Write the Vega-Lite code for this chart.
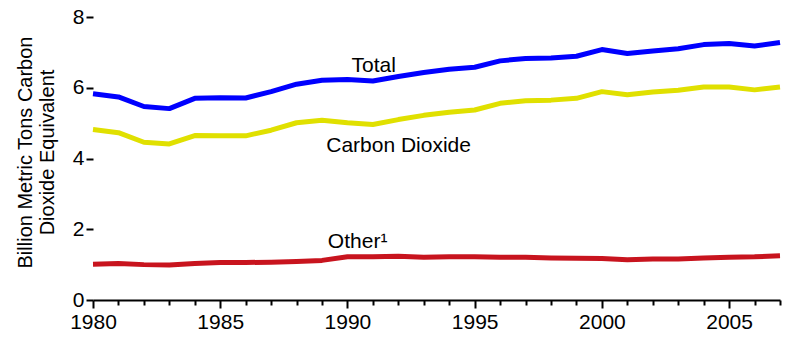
{
  "$schema": "https://vega.github.io/schema/vega-lite/v6.json",
  "width": 687,
  "height": 283,
  "autosize": {"type": "none"},
  "padding": {"left": 93, "top": 17, "right": 5, "bottom": 38},
  "background": "white",
  "config": {
    "font": "Liberation Sans",
    "view": {"stroke": null},
    "axis": {"labelFont": "Liberation Sans", "titleFont": "Liberation Sans", "labelColor": "black", "titleColor": "black", "tickColor": "black", "domainColor": "black", "grid": false}
  },
  "data": {"values": [
    {"year": 1980, "series": "Total", "value": 5.83},
    {"year": 1981, "series": "Total", "value": 5.74},
    {"year": 1982, "series": "Total", "value": 5.47},
    {"year": 1983, "series": "Total", "value": 5.41},
    {"year": 1984, "series": "Total", "value": 5.70},
    {"year": 1985, "series": "Total", "value": 5.72},
    {"year": 1986, "series": "Total", "value": 5.71},
    {"year": 1987, "series": "Total", "value": 5.89},
    {"year": 1988, "series": "Total", "value": 6.10},
    {"year": 1989, "series": "Total", "value": 6.21},
    {"year": 1990, "series": "Total", "value": 6.23},
    {"year": 1991, "series": "Total", "value": 6.19},
    {"year": 1992, "series": "Total", "value": 6.32},
    {"year": 1993, "series": "Total", "value": 6.43},
    {"year": 1994, "series": "Total", "value": 6.52},
    {"year": 1995, "series": "Total", "value": 6.58},
    {"year": 1996, "series": "Total", "value": 6.76},
    {"year": 1997, "series": "Total", "value": 6.83},
    {"year": 1998, "series": "Total", "value": 6.84},
    {"year": 1999, "series": "Total", "value": 6.89},
    {"year": 2000, "series": "Total", "value": 7.08},
    {"year": 2001, "series": "Total", "value": 6.97},
    {"year": 2002, "series": "Total", "value": 7.04},
    {"year": 2003, "series": "Total", "value": 7.10},
    {"year": 2004, "series": "Total", "value": 7.22},
    {"year": 2005, "series": "Total", "value": 7.25},
    {"year": 2006, "series": "Total", "value": 7.18},
    {"year": 2007, "series": "Total", "value": 7.28},
    {"year": 1980, "series": "Carbon Dioxide", "value": 4.82},
    {"year": 1981, "series": "Carbon Dioxide", "value": 4.73},
    {"year": 1982, "series": "Carbon Dioxide", "value": 4.46},
    {"year": 1983, "series": "Carbon Dioxide", "value": 4.41},
    {"year": 1984, "series": "Carbon Dioxide", "value": 4.65},
    {"year": 1985, "series": "Carbon Dioxide", "value": 4.64},
    {"year": 1986, "series": "Carbon Dioxide", "value": 4.64},
    {"year": 1987, "series": "Carbon Dioxide", "value": 4.80},
    {"year": 1988, "series": "Carbon Dioxide", "value": 5.01},
    {"year": 1989, "series": "Carbon Dioxide", "value": 5.08},
    {"year": 1990, "series": "Carbon Dioxide", "value": 5.01},
    {"year": 1991, "series": "Carbon Dioxide", "value": 4.96},
    {"year": 1992, "series": "Carbon Dioxide", "value": 5.10},
    {"year": 1993, "series": "Carbon Dioxide", "value": 5.22},
    {"year": 1994, "series": "Carbon Dioxide", "value": 5.31},
    {"year": 1995, "series": "Carbon Dioxide", "value": 5.37},
    {"year": 1996, "series": "Carbon Dioxide", "value": 5.56},
    {"year": 1997, "series": "Carbon Dioxide", "value": 5.63},
    {"year": 1998, "series": "Carbon Dioxide", "value": 5.65},
    {"year": 1999, "series": "Carbon Dioxide", "value": 5.70},
    {"year": 2000, "series": "Carbon Dioxide", "value": 5.89},
    {"year": 2001, "series": "Carbon Dioxide", "value": 5.80},
    {"year": 2002, "series": "Carbon Dioxide", "value": 5.88},
    {"year": 2003, "series": "Carbon Dioxide", "value": 5.93},
    {"year": 2004, "series": "Carbon Dioxide", "value": 6.02},
    {"year": 2005, "series": "Carbon Dioxide", "value": 6.02},
    {"year": 2006, "series": "Carbon Dioxide", "value": 5.94},
    {"year": 2007, "series": "Carbon Dioxide", "value": 6.02},
    {"year": 1980, "series": "Other", "value": 1.01},
    {"year": 1981, "series": "Other", "value": 1.03},
    {"year": 1982, "series": "Other", "value": 1.00},
    {"year": 1983, "series": "Other", "value": 0.99},
    {"year": 1984, "series": "Other", "value": 1.03},
    {"year": 1985, "series": "Other", "value": 1.06},
    {"year": 1986, "series": "Other", "value": 1.06},
    {"year": 1987, "series": "Other", "value": 1.07},
    {"year": 1988, "series": "Other", "value": 1.09},
    {"year": 1989, "series": "Other", "value": 1.12},
    {"year": 1990, "series": "Other", "value": 1.22},
    {"year": 1991, "series": "Other", "value": 1.22},
    {"year": 1992, "series": "Other", "value": 1.24},
    {"year": 1993, "series": "Other", "value": 1.21},
    {"year": 1994, "series": "Other", "value": 1.22},
    {"year": 1995, "series": "Other", "value": 1.22},
    {"year": 1996, "series": "Other", "value": 1.21},
    {"year": 1997, "series": "Other", "value": 1.21},
    {"year": 1998, "series": "Other", "value": 1.19},
    {"year": 1999, "series": "Other", "value": 1.18},
    {"year": 2000, "series": "Other", "value": 1.17},
    {"year": 2001, "series": "Other", "value": 1.14},
    {"year": 2002, "series": "Other", "value": 1.16},
    {"year": 2003, "series": "Other", "value": 1.16},
    {"year": 2004, "series": "Other", "value": 1.19},
    {"year": 2005, "series": "Other", "value": 1.21},
    {"year": 2006, "series": "Other", "value": 1.22},
    {"year": 2007, "series": "Other", "value": 1.25}
  ]},
  "encoding": {
    "x": {
      "field": "year", "type": "quantitative",
      "scale": {"domain": [1980, 2007], "nice": false, "zero": false},
      "axis": {
        "title": null,
        "values": [1980,1981,1982,1983,1984,1985,1986,1987,1988,1989,1990,1991,1992,1993,1994,1995,1996,1997,1998,1999,2000,2001,2002,2003,2004,2005,2006,2007],
        "format": "d",
        "labelExpr": "datum.value % 5 === 0 ? datum.label : ''",
        "tickSize": {"condition": {"test": "datum.value % 5 === 0", "value": 8}, "value": 5},
        "tickWidth": 2,
        "domainWidth": 2,
        "labelFontSize": 21,
        "labelPadding": 3,
        "labelFlush": false,
        "labelOverlap": false
      }
    },
    "y": {
      "field": "value", "type": "quantitative",
      "scale": {"domain": [0, 8], "nice": false},
      "axis": {
        "values": [0, 2, 4, 6, 8],
        "title": ["Billion Metric Tons Carbon", "Dioxide Equivalent"],
        "titleFontSize": 20,
        "titleFontWeight": "normal",
        "titleLineHeight": 22,
        "titlePadding": 15,
        "titleY": 135,
        "domain": false,
        "tickSize": 7,
        "tickWidth": 2,
        "labelFontSize": 21,
        "labelPadding": 2
      }
    }
  },
  "layer": [
    {
      "mark": {"type": "line", "strokeWidth": 5, "strokeJoin": "round", "strokeCap": "butt"},
      "encoding": {
        "color": {
          "field": "series", "type": "nominal",
          "scale": {"domain": ["Total", "Carbon Dioxide", "Other"], "range": ["#0000ff", "#e0e000", "#c8141e"]},
          "legend": null
        },
        "order": {"field": "year"}
      }
    },
    {
      "data": {"values": [
        {"label": "Total", "year": 1991.03, "value": 6.44},
        {"label": "Carbon Dioxide", "year": 1992.01, "value": 4.18},
        {"label": "Other¹", "year": 1990.4, "value": 1.47}
      ]},
      "mark": {"type": "text", "fontSize": 21, "baseline": "alphabetic", "align": "center", "color": "black", "font": "Liberation Sans"},
      "encoding": {
        "text": {"field": "label"}
      }
    }
  ]
}
